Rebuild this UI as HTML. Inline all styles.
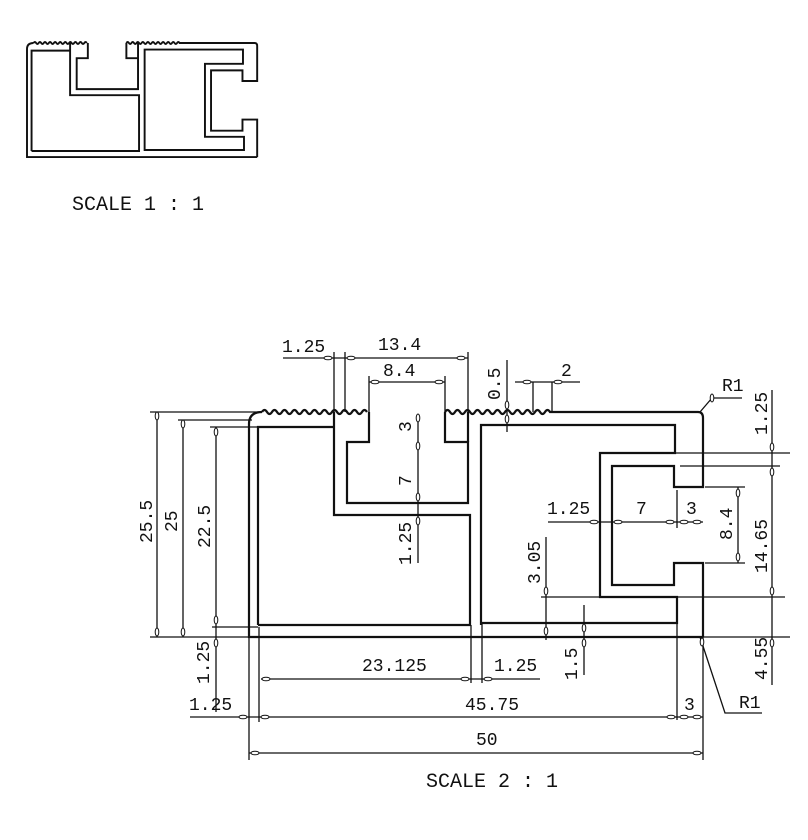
<!DOCTYPE html>
<html><head><meta charset="utf-8"><style>
html,body{margin:0;padding:0;background:#fff;}
svg{display:block;}
text{font-family:"Liberation Mono","DejaVu Sans Mono",monospace;font-size:18px;fill:#111;}
.p{stroke:#111;stroke-width:var(--sw,2.2);fill:none;}
.d{stroke:#111;stroke-width:1.3;fill:none;}
.o{stroke:#111;stroke-width:1;fill:#fff;}
</style></head><body>
<svg width="808" height="840" viewBox="0 0 808 840" xmlns="http://www.w3.org/2000/svg">
<defs>
<g id="prof">
 <path class="p" d="M262,412 q2.5,-4 5,0 t5,0 t5,0 t5,0 t5,0 t5,0 t5,0 t5,0 t5,0 t5,0 t5,0 t5,0 t5,0 t5,0 t5,0 t5,0 t5,0 t5,0 t5,0 t5,0 t5,0"/>
 <path class="p" d="M445,412 q2.5,-4 5,0 t5,0 t5,0 t5,0 t5,0 t5,0 t5,0 t5,0 t5,0 t5,0 t5,0 t5,0 t5,0 t5,0 t5,0 t5,0 t5,0 t5,0 t5,0 t5,0 t5,0 L698,412 Q703,412 703,418 L703,487 L674,487 L674,466 L612,466 L612,585 L674,585 L674,563 L703,563 L703,637"/>
 <path class="p" d="M262,412 Q249,412 249,424 L249,637 L703,637"/>
 <path class="p" d="M258,625 L258,427 L334,427"/>
 <path class="p" d="M334,412 L334,515 L470,515 L470,625 L258,625"/>
 <path class="p" d="M369,412 L369,442 L347,442 L347,503 L468,503 L468,442 L445,442 L445,412"/>
 <path class="p" d="M468,412 L468,442"/>
 <path class="p" d="M481,625 L481,425 L675,425 L675,453 L600,453 L600,597 L677,597 L677,623 L481,623"/>
</g>
</defs>

<!-- small scale 1:1 -->
<g transform="translate(27,43) scale(0.507) translate(-249,-412)" style="--sw:3.8">
 <use href="#prof"/>
</g>
<text x="72" y="210" style="font-size:20px">SCALE 1 : 1</text>

<!-- main profile -->
<use href="#prof"/>

<!-- extension lines -->
<g class="d">
 <path d="M150,412 L262,412"/>
 <path d="M178,420 L252,420"/>
 <path d="M210,427 L258,427"/>
 <path d="M212,627 L258,627"/>
 <path d="M150,637 L790,637"/>
 <path d="M249,637 L249,760"/>
 <path d="M259,627 L259,722"/>
 <path d="M471,625 L471,683"/>
 <path d="M482,623 L482,683"/>
 <path d="M677,623 L677,720"/>
 <path d="M703,637 L703,760"/>
 <path d="M334,352 L334,412"/>
 <path d="M345,352 L345,412"/>
 <path d="M468,352 L468,412"/>
 <path d="M369,376 L369,412"/>
 <path d="M445,376 L445,412"/>
 <path d="M675,453 L790,453"/>
 <path d="M680,466 L780,466"/>
 <path d="M705,487 L745,487"/>
 <path d="M705,563 L745,563"/>
 <path d="M541,597 L785,597"/>
 <path d="M533,382 L533,412"/>
 <path d="M552,382 L552,412"/>
</g>

<!-- dimension lines -->
<g class="d">
 <path d="M157,412 L157,637"/>
 <path d="M183,420 L183,637"/>
 <path d="M216,427 L216,712"/>
 <path d="M283,358 L468,358"/>
 <path d="M369,382 L445,382"/>
 <path d="M418,415 L418,563"/>
 <path d="M507,360 L507,432"/>
 <path d="M515,382 L580,382"/>
 <path d="M772,390 L772,685"/>
 <path d="M738,487 L738,563"/>
 <path d="M548,522 L703,522"/>
 <path d="M677,490 L677,528"/>
 <path d="M546,537 L546,640"/>
 <path d="M584,605 L584,675"/>
 <path d="M261,679 L540,679"/>
 <path d="M190,717 L703,717"/>
 <path d="M249,753 L703,753"/>
 <path d="M700,412 L712,398 L742,398"/>
 <path d="M700,637 L725,713 L762,713"/>
</g>

<!-- terminators -->
<g class="o">
 <ellipse cx="157" cy="632" rx="1.8" ry="4"/><ellipse cx="183" cy="632" rx="1.8" ry="4"/>
 <ellipse cx="183" cy="424" rx="1.8" ry="4"/><ellipse cx="157" cy="416" rx="1.8" ry="4"/>
 <ellipse cx="216" cy="432" rx="1.8" ry="4"/><ellipse cx="216" cy="620" rx="1.8" ry="4"/>
 <ellipse cx="216" cy="643" rx="1.8" ry="4"/>
 <ellipse cx="328" cy="358" rx="4" ry="1.8"/><ellipse cx="351" cy="358" rx="4" ry="1.8"/><ellipse cx="461" cy="358" rx="4" ry="1.8"/>
 <ellipse cx="375" cy="382" rx="4" ry="1.8"/><ellipse cx="439" cy="382" rx="4" ry="1.8"/>
 <ellipse cx="418" cy="418" rx="1.8" ry="4"/><ellipse cx="418" cy="446" rx="1.8" ry="4"/><ellipse cx="418" cy="497" rx="1.8" ry="4"/><ellipse cx="418" cy="521" rx="1.8" ry="4"/>
 <ellipse cx="507" cy="405" rx="1.8" ry="4"/><ellipse cx="507" cy="419" rx="1.8" ry="4"/>
 <ellipse cx="527" cy="382" rx="4" ry="1.8"/><ellipse cx="558" cy="382" rx="4" ry="1.8"/>
 <ellipse cx="772" cy="447" rx="1.8" ry="4"/><ellipse cx="772" cy="472" rx="1.8" ry="4"/>
 <ellipse cx="772" cy="591" rx="1.8" ry="4"/><ellipse cx="772" cy="643" rx="1.8" ry="4"/>
 <ellipse cx="738" cy="493" rx="1.8" ry="4"/><ellipse cx="738" cy="557" rx="1.8" ry="4"/>
 <ellipse cx="594" cy="522" rx="4" ry="1.8"/><ellipse cx="618" cy="522" rx="4" ry="1.8"/><ellipse cx="670" cy="522" rx="4" ry="1.8"/><ellipse cx="684" cy="522" rx="4" ry="1.8"/><ellipse cx="697" cy="522" rx="4" ry="1.8"/>
 <ellipse cx="546" cy="591" rx="1.8" ry="4"/><ellipse cx="546" cy="631" rx="1.8" ry="4"/>
 <ellipse cx="584" cy="628" rx="1.8" ry="4"/><ellipse cx="584" cy="643" rx="1.8" ry="4"/>
 <ellipse cx="266" cy="679" rx="4" ry="1.8"/><ellipse cx="465" cy="679" rx="4" ry="1.8"/><ellipse cx="488" cy="679" rx="4" ry="1.8"/>
 <ellipse cx="243" cy="717" rx="4" ry="1.8"/><ellipse cx="265" cy="717" rx="4" ry="1.8"/><ellipse cx="671" cy="717" rx="4" ry="1.8"/><ellipse cx="684" cy="717" rx="4" ry="1.8"/><ellipse cx="697" cy="717" rx="4" ry="1.8"/>
 <ellipse cx="255" cy="753" rx="4" ry="1.8"/><ellipse cx="697" cy="753" rx="4" ry="1.8"/>
 <ellipse cx="712" cy="398" rx="1.8" ry="4"/><ellipse cx="702" cy="642" rx="1.8" ry="4"/>
</g>

<!-- labels -->
<text x="282" y="352">1.25</text>
<text x="378" y="350">13.4</text>
<text x="383" y="376">8.4</text>
<text x="561" y="376">2</text>
<text x="722" y="391">R1</text>
<text x="739" y="708">R1</text>
<text x="547" y="514">1.25</text>
<text x="636" y="514">7</text>
<text x="686" y="514">3</text>
<text x="362" y="671">23.125</text>
<text x="494" y="671">1.25</text>
<text x="189" y="710">1.25</text>
<text x="465" y="710">45.75</text>
<text x="684" y="710">3</text>
<text x="476" y="745">50</text>
<text x="426" y="787" style="font-size:20px">SCALE 2 : 1</text>
<g>
 <text transform="translate(152,543) rotate(-90)">25.5</text>
 <text transform="translate(177,532) rotate(-90)">25</text>
 <text transform="translate(210,548) rotate(-90)">22.5</text>
 <text transform="translate(209,684) rotate(-90)">1.25</text>
 <text transform="translate(411,432) rotate(-90)">3</text>
 <text transform="translate(411,486) rotate(-90)">7</text>
 <text transform="translate(411,565) rotate(-90)">1.25</text>
 <text transform="translate(500,400) rotate(-90)">0.5</text>
 <text transform="translate(540,584) rotate(-90)">3.05</text>
 <text transform="translate(577,680) rotate(-90)">1.5</text>
 <text transform="translate(732,540) rotate(-90)">8.4</text>
 <text transform="translate(767,435) rotate(-90)">1.25</text>
 <text transform="translate(767,573) rotate(-90)">14.65</text>
 <text transform="translate(767,680) rotate(-90)">4.55</text>
</g>
</svg>
</body></html>
